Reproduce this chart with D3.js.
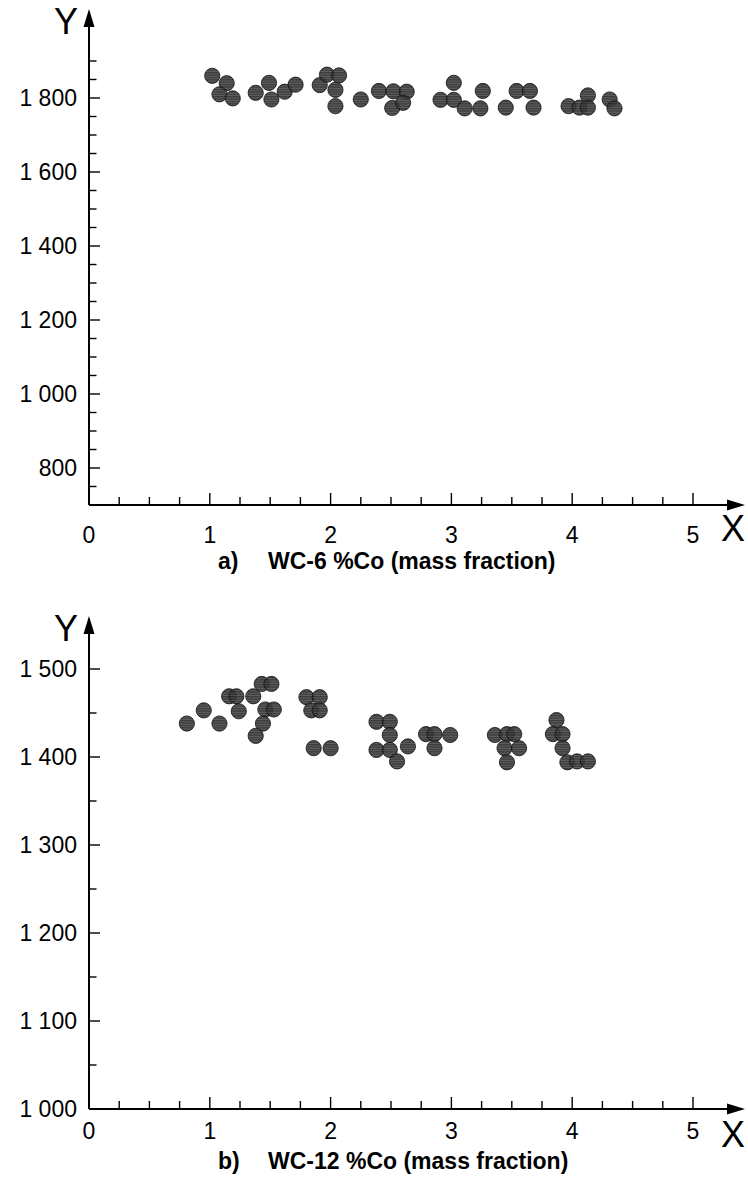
<!DOCTYPE html>
<html>
<head>
<meta charset="utf-8">
<script src="https://cdn.jsdelivr.net/npm/d3@7"></script>
<style>
  html, body { margin: 0; padding: 0; background: #fff; }
  svg { display: block; font-family: "Liberation Sans", Arial, sans-serif; }
</style>
</head>
<body>
<div id="chart"></div>
<script>
// ── Data ─────────────────────────────────────────────────────
// panel a) WC-6 %Co
const xA = [1.02, 1.14, 1.08, 1.19, 1.38, 1.49, 1.51, 1.62, 1.71, 1.91, 1.97, 2.07,
            2.04, 2.04, 2.25, 2.40, 2.52, 2.63, 2.51, 2.60, 3.02, 2.91, 3.02, 3.11,
            3.26, 3.24, 3.45, 3.54, 3.65, 3.68, 3.97, 4.06, 4.13, 4.13, 4.31, 4.35];
const yA = [1860, 1840, 1810, 1799, 1814, 1841, 1796, 1817, 1836, 1835, 1863, 1861,
            1822, 1778, 1796, 1819, 1818, 1817, 1773, 1787, 1841, 1795, 1795, 1772,
            1819, 1772, 1774, 1819, 1819, 1774, 1778, 1774, 1807, 1774, 1796, 1772];

// panel b) WC-12 %Co
const xB = [0.81, 0.95, 1.08, 1.16, 1.22, 1.24, 1.36, 1.43, 1.51, 1.46, 1.53, 1.44,
            1.38, 1.80, 1.91, 1.84, 1.91, 1.86, 2.00, 2.38, 2.49, 2.49, 2.38, 2.49,
            2.64, 2.55, 2.79, 2.86, 2.86, 2.99, 3.36, 3.46, 3.52, 3.44, 3.56, 3.46,
            3.87, 3.84, 3.92, 3.92, 3.96, 4.04, 4.13];
const yB = [1438, 1453, 1438, 1469, 1469, 1452, 1469, 1483, 1483, 1454, 1454, 1438,
            1424, 1468, 1468, 1453, 1453, 1410, 1410, 1440, 1440, 1425, 1408, 1408,
            1412, 1395, 1426, 1426, 1410, 1425, 1425, 1426, 1426, 1410, 1410, 1394,
            1442, 1426, 1426, 1410, 1394, 1395, 1395];

const xTicks  = [0, 1, 2, 3, 4, 5];
const yTicksA = [800, 1000, 1200, 1400, 1600, 1800];
const yTicksB = [1000, 1100, 1200, 1300, 1400, 1500];

const W = 748, H = 1191;

const svg = d3.select('#chart').append('svg')
  .attr('width', W).attr('height', H);

// ── Marker pattern (hatched dark disc) ──────────────────────
const defs = svg.append('defs');
const pat = defs.append('pattern')
  .attr('id', 'hatch')
  .attr('patternUnits', 'userSpaceOnUse')
  .attr('width', 4).attr('height', 2.4);
pat.append('rect').attr('width', 4).attr('height', 2.4).attr('fill', '#262626');
pat.append('rect').attr('y', 1.4).attr('width', 4).attr('height', 0.8).attr('fill', '#5e5e5e');

const fmt = v => d3.format(',')(v).replace(/,/g, ' ');

// ── Panel ────────────────────────────────────────────────────
function drawPanel(cfg) {
  const g = svg.append('g');
  const x = d3.scaleLinear().domain([0, 5]).range([89, 693]);
  const y = d3.scaleLinear().domain(cfg.yDomain).range([cfg.axisY, cfg.yTop]);
  const x0 = x(0), y0 = cfg.axisY;

  // axis lines
  g.append('line').attr('x1', x0).attr('x2', 730).attr('y1', y0).attr('y2', y0)
    .attr('stroke', '#000').attr('stroke-width', 2);
  g.append('line').attr('x1', x0).attr('x2', x0).attr('y1', y0).attr('y2', cfg.arrowTop + 15)
    .attr('stroke', '#000').attr('stroke-width', 2);

  // arrows
  g.append('path')
    .attr('d', `M${x0},${cfg.arrowTop} L${x0 - 5.5},${cfg.arrowTop + 18} L${x0 + 5.5},${cfg.arrowTop + 18} Z`)
    .attr('fill', '#000');
  g.append('path')
    .attr('d', `M745,${y0} L727,${y0 - 5.5} L727,${y0 + 5.5} Z`)
    .attr('fill', '#000');

  // x ticks
  d3.range(0.25, 5.01, 0.25).forEach(v => {
    const major = Math.abs(v - Math.round(v)) < 1e-6;
    g.append('line')
      .attr('x1', x(v)).attr('x2', x(v))
      .attr('y1', y0).attr('y2', y0 - (major ? 12 : 8))
      .attr('stroke', '#000').attr('stroke-width', 1.4);
  });
  g.selectAll('.xl').data(xTicks).join('text')
    .attr('x', d => x(d)).attr('y', y0 + cfg.xLabOff)
    .attr('text-anchor', 'middle').attr('font-size', 23)
    .text(d => d);

  // y ticks
  const [lo, hi] = cfg.yDomain;
  d3.range(lo + cfg.minor, hi + 1, cfg.minor).forEach(v => {
    const major = cfg.yTicks.includes(v);
    g.append('line')
      .attr('x1', x0).attr('x2', x0 + (major ? 11 : 7.5))
      .attr('y1', y(v)).attr('y2', y(v))
      .attr('stroke', '#000').attr('stroke-width', 1.4);
  });
  g.selectAll('.yl').data(cfg.yTicks).join('text')
    .attr('x', 77).attr('y', d => y(d) + 8)
    .attr('text-anchor', 'end').attr('font-size', 23)
    .text(fmt);

  // axis letters
  g.append('text').attr('x', 66).attr('y', cfg.arrowTop + 25)
    .attr('text-anchor', 'middle').attr('font-size', 36).text('Y');
  g.append('text').attr('x', 733).attr('y', y0 + cfg.xLetOff)
    .attr('text-anchor', 'middle').attr('font-size', 36).text('X');

  // points
  const pts = cfg.xs.map((d, i) => ({ x: d, y: cfg.ys[i] }));
  g.append('g').selectAll('circle').data(pts).join('circle')
    .attr('cx', d => x(d.x)).attr('cy', d => y(d.y)).attr('r', 7.6)
    .attr('fill', 'url(#hatch)').attr('fill-opacity', 0.9)
    .attr('stroke', '#111').attr('stroke-opacity', 0.8).attr('stroke-width', 1);

  // caption
  g.append('text').attr('x', 218).attr('y', cfg.capY)
    .attr('font-size', 23).attr('font-weight', 'bold').text(cfg.tag);
  g.append('text').attr('x', 268).attr('y', cfg.capY)
    .attr('font-size', 23).attr('font-weight', 'bold').text(cfg.caption);
}

drawPanel({
  xs: xA, ys: yA, yTicks: yTicksA, yDomain: [700, 1900], minor: 50,
  axisY: 505, yTop: 61, arrowTop: 9, capY: 569, xLabOff: 38, xLetOff: 36,
  tag: 'a)', caption: 'WC-6 %Co (mass fraction)'
});

drawPanel({
  xs: xB, ys: yB, yTicks: yTicksB, yDomain: [1000, 1500], minor: 50,
  axisY: 1109, yTop: 669, arrowTop: 616, capY: 1169, xLabOff: 30, xLetOff: 38,
  tag: 'b)', caption: 'WC-12 %Co (mass fraction)'
});
</script>
</body>
</html>
